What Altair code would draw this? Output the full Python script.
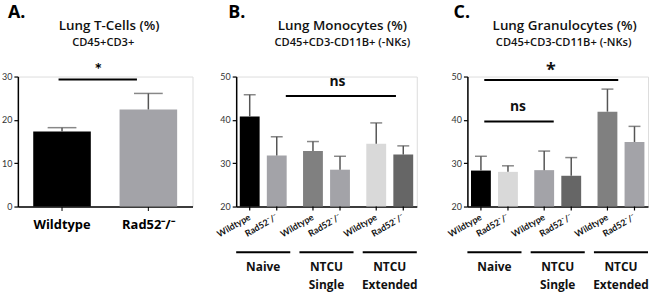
import altair as alt
import pandas as pd

FONT = "Lato"
TFONT = "Open Sans"

# ---------------- data ----------------
a_cats = ["Wildtype", "Rad52⁻/⁻"]
a_mean = [17.3, 22.4]
a_err = [18.2, 26.1]
a_colors = ["#000000", "#a3a3a8"]

groups = ["Naive", "NTCU Single", "NTCU Extended"]
group_labels = ["Naive", "NTCU\nSingle", "NTCU\nExtended"]
genos = ["Wildtype", "Rad52⁻/⁻"]

b_mean = [40.8, 31.8, 32.8, 28.5, 34.5, 32.0]
b_err = [45.8, 36.1, 35.0, 31.6, 39.3, 34.0]
b_colors = ["#000000", "#a3a3a8", "#808080", "#a3a3a8", "#d9d9d9", "#666666"]

c_mean = [28.3, 28.0, 28.4, 27.1, 41.9, 34.9]
c_err = [31.6, 29.4, 32.8, 31.3, 47.1, 38.5]
c_colors = ["#000000", "#d9d9d9", "#a3a3a8", "#666666", "#808080", "#a3a3a8"]

H = 131
ERR_COLOR = "#555555"

one = pd.DataFrame({"k": [0]})


def yaxis(values):
    return alt.Axis(values=values, grid=False, title=None, labelFont=FONT, labelFontSize=9,
                    labelColor="#333333", tickSize=4, tickColor="#000", domainColor="#000",
                    domainWidth=1.5, tickWidth=1.2, minExtent=17, maxExtent=17, labelPadding=2)


def annotations(letter, letter_x, line1, x1, line2, x2):
    base = alt.Chart(one)
    let = base.mark_text(text=letter, font=TFONT, fontSize=18, fontWeight="bold", align="left",
                         baseline="middle", color="#000").encode(x=alt.value(letter_x), y=alt.value(-64))
    t1 = base.mark_text(text=line1, font=TFONT, fontSize=13.5, fontWeight=600, align="center",
                        baseline="middle", color="#111").encode(x=alt.value(x1), y=alt.value(-51))
    t2 = base.mark_text(text=line2, font=TFONT, fontSize=11.2, fontWeight=600, align="center",
                        baseline="middle", color="#111").encode(x=alt.value(x2), y=alt.value(-34))
    return [let, t1, t2]


# ---------------- panel A ----------------
WA = 176
dfA = pd.DataFrame({"cat": a_cats, "mean": a_mean, "err": a_err, "id": ["a0", "a1"]})
xA = alt.X("cat:N", sort=a_cats, title=None,
           scale=alt.Scale(domain=a_cats, paddingInner=0.333, paddingOuter=0.178),
           axis=alt.Axis(labelAngle=0, labelFont=TFONT, labelFontSize=13, labelFontWeight="bold",
                         labelColor="#000", labelPadding=8, tickSize=4, tickColor="#000",
                         domainColor="#000", domainWidth=1.5))
yA = alt.Y("mean:Q", title=None, scale=alt.Scale(domain=[0, 30]), axis=yaxis([0, 10, 20, 30]))
baseA = alt.Chart(dfA)
barsA = baseA.mark_bar().encode(
    x=xA, y=yA,
    color=alt.Color("id:N", scale=alt.Scale(domain=["a0", "a1"], range=a_colors), legend=None))
errA = baseA.mark_rule(color=ERR_COLOR, strokeWidth=1.5).encode(x=xA, y="mean:Q", y2="err:Q")
capA = baseA.mark_tick(color=ERR_COLOR, size=29, thickness=1.5).encode(x=xA, y="err:Q")
sigA = alt.Chart(one).mark_rule(color="#000", strokeWidth=2).encode(
    x=alt.value(41), x2=alt.value(120), y=alt.datum(29.3))
starA = alt.Chart(one).mark_text(text="*", font=FONT, fontSize=18, fontWeight="bold",
                                 baseline="alphabetic").encode(x=alt.value(81), y=alt.value(-1))
panelA = alt.layer(barsA, errA, capA, sigA, starA,
                   *annotations("A.", -10, "Lung  T-Cells (%)", 92, "CD45+CD3+", 86)
                   ).properties(width=WA, height=H)


# ---------------- panels B & C ----------------
WB = 182


def grouped_panel(tag, mean, err, colors, letter, letter_x, line1, x1, line2, x2, sigs, texts):
    ids = [f"{tag}|{g}|{s}" for g in groups for s in genos]
    df = pd.DataFrame({
        "group": [g for g in groups for _ in genos],
        "geno": [s for _ in groups for s in genos],
        "mean": mean, "err": err, "id": ids,
    })
    gdf = pd.DataFrame({"group": groups, "label": group_labels})
    x = alt.X("group:N", sort=groups, title=None,
              scale=alt.Scale(domain=groups, paddingInner=0.145, paddingOuter=0),
              axis=alt.Axis(labels=False, ticks=False, domainColor="#000", domainWidth=1.5))
    xo = alt.XOffset("geno:N", sort=genos,
                     scale=alt.Scale(domain=genos, paddingInner=0.266, paddingOuter=0.133))
    y = alt.Y("mean:Q", title=None, scale=alt.Scale(domain=[20, 50]), axis=yaxis([20, 30, 40, 50]))
    base = alt.Chart(df)
    bars = base.mark_bar().encode(
        x=x, xOffset=xo, y=y, y2=alt.datum(20),
        color=alt.Color("id:N", scale=alt.Scale(domain=ids, range=colors), legend=None))
    er = base.mark_rule(color=ERR_COLOR, strokeWidth=1.5).encode(x=x, xOffset=xo, y="mean:Q", y2="err:Q")
    cap = base.mark_tick(color=ERR_COLOR, size=12, thickness=1.5).encode(x=x, xOffset=xo, y="err:Q")
    ticks = base.mark_rule(color="#000", strokeWidth=1.2).encode(
        x=x, xOffset=xo, y=alt.value(H), y2=alt.value(H + 4))
    lbl = base.mark_text(angle=330, align="right", baseline="middle", font=FONT, fontSize=9,
                         fontWeight="bold", color="#111").encode(
        x=x, xOffset=xo, y=alt.value(H + 10), text="geno:N")
    gbase = alt.Chart(gdf)
    glines = gbase.mark_bar(color="#000").encode(x=x, y=alt.value(H + 45), y2=alt.value(H + 47))
    gtext = gbase.mark_text(lineBreak="\n", baseline="top", font=TFONT, fontSize=12,
                            fontWeight="bold", lineHeight=18, color="#111").encode(
        x=x, y=alt.value(H + 56), text="label:N")
    layers = [bars, er, cap, ticks, lbl, glines, gtext]
    for sx1, sx2, yv in sigs:
        layers.append(alt.Chart(one).mark_rule(color="#000", strokeWidth=2).encode(
            x=alt.value(sx1), x2=alt.value(sx2), y=alt.datum(yv)))
    for t, tx, ty, fs in texts:
        layers.append(alt.Chart(one).mark_text(text=t, font=TFONT, fontSize=fs, fontWeight="bold",
                                               baseline="alphabetic", color="#111").encode(
            x=alt.value(tx), y=alt.value(ty)))
    layers += annotations(letter, letter_x, line1, x1, line2, x2)
    return alt.layer(*layers).properties(width=WB, height=H)


panelB = grouped_panel("B", b_mean, b_err, b_colors, "B.", -8,
                       "Lung  Monocytes (%)", 107, "CD45+CD3-CD11B+ (-NKs)", 107,
                       [(50, 161, 45.5)], [("ns", 102, 10, 14)])
panelC = grouped_panel("C", c_mean, c_err, c_colors, "C.", -14,
                       "Lung  Granulocytes (%)", 98, "CD45+CD3-CD11B+ (-NKs)", 97,
                       [(17, 152, 49.2), (17, 87, 39.6)],
                       [("*", 84, -1, 18), ("ns", 51, 35, 14)])

chart = alt.hconcat(
    panelA,
    alt.hconcat(panelB, panelC, spacing=28).resolve_scale(color="independent"),
    spacing=22,
).resolve_scale(color="independent").properties(
    padding={"left": 0, "top": 2, "right": 0, "bottom": 0}
).configure_view(strokeWidth=0).configure(font=FONT)

chart.save("out.html", embed_options={"renderer": "svg", "actions": False})
